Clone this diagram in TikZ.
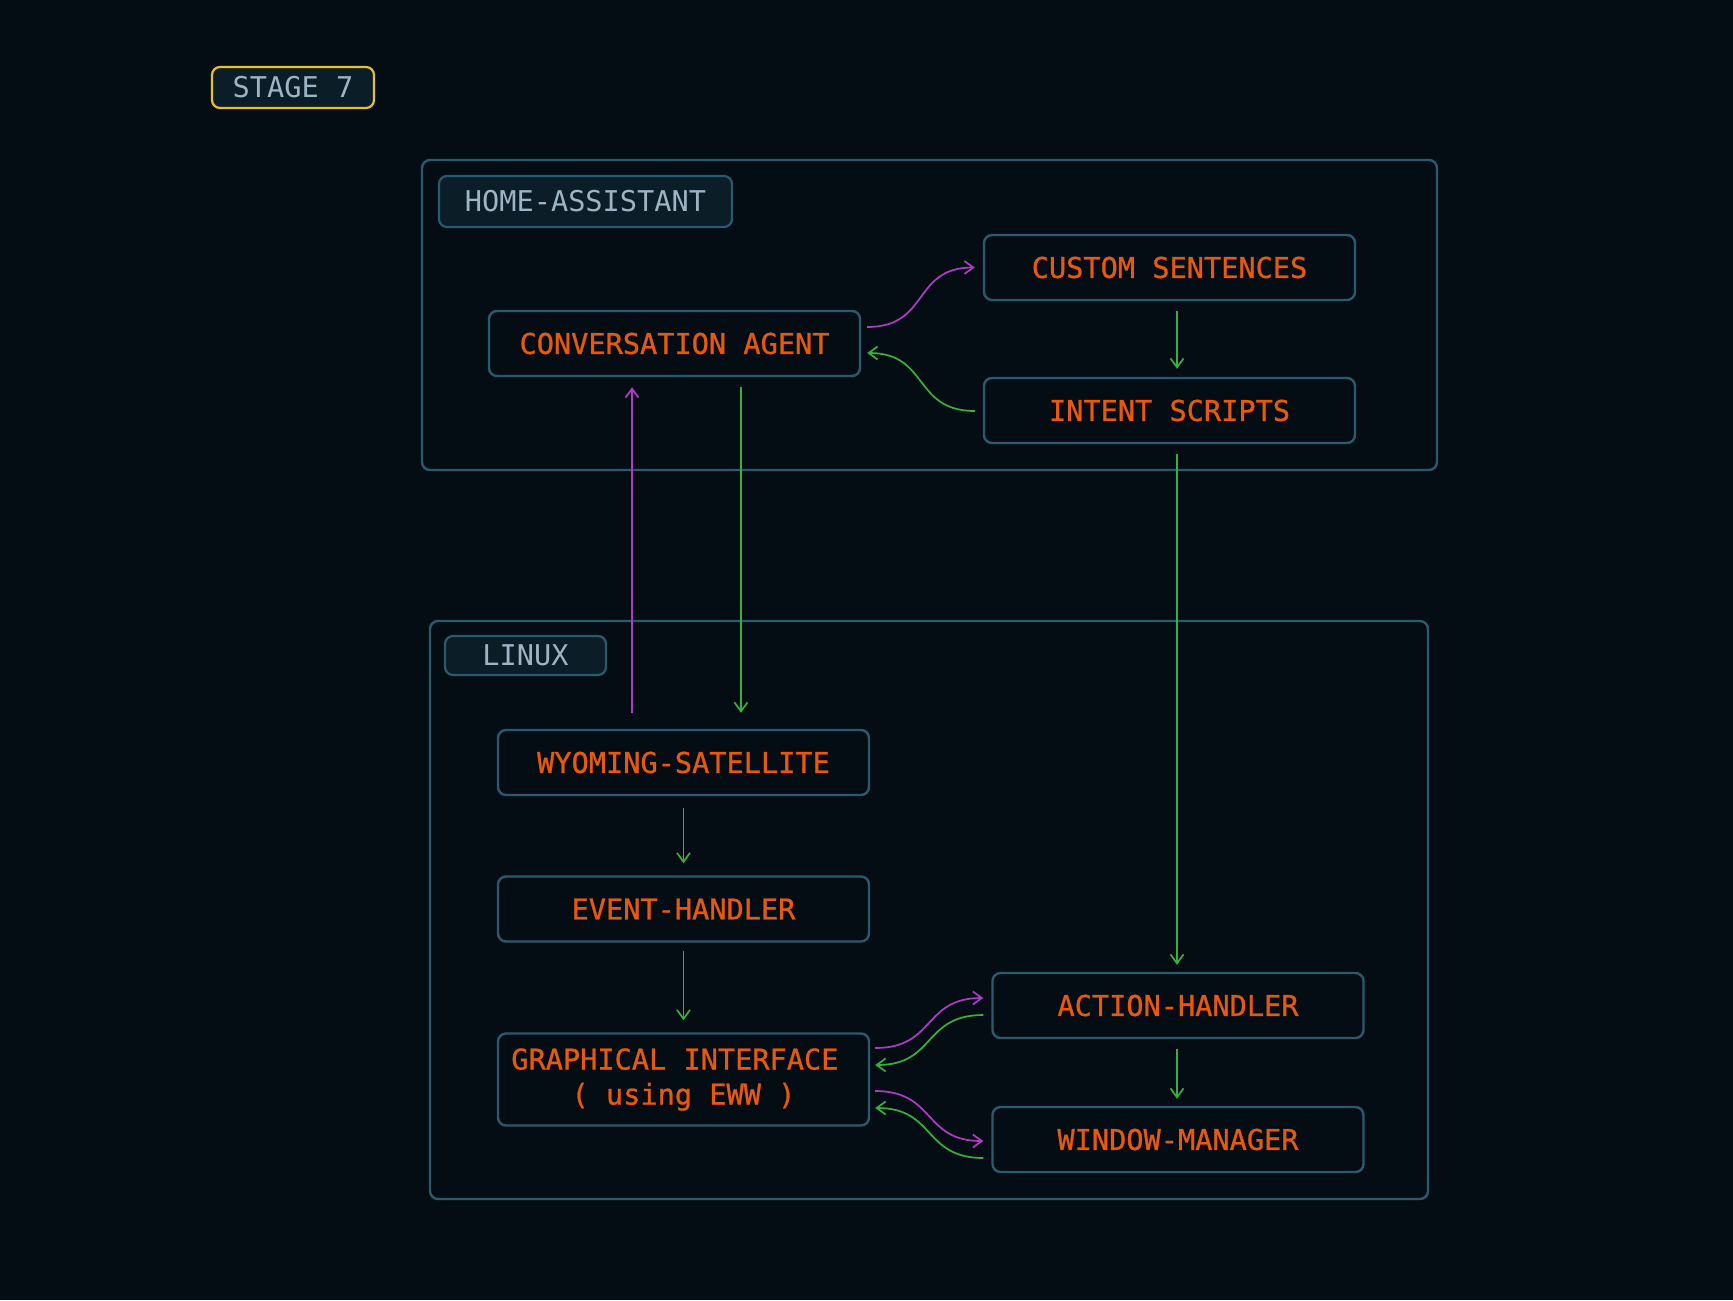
\documentclass[tikz,border=0pt]{standalone}
\usepackage{fontspec}
\setmonofont{DejaVu Sans Mono}
\newfontfamily\boxfont[FakeBold=0.9]{DejaVu Sans Mono}
\usepackage{tikz}
\usepackage{xcolor}
\usetikzlibrary{calc, arrows.meta}

\definecolor{bg}{HTML}{040D14}
\definecolor{frame}{HTML}{2B5A6E}
\definecolor{tag}{HTML}{0B1D27}
\definecolor{tagtext}{HTML}{9DB4C2}
\definecolor{hot}{HTML}{E8590C}
\definecolor{gold}{HTML}{E8C02E}
\definecolor{pull}{HTML}{B03CC4}
\definecolor{push}{HTML}{38B040}

\tikzset{
	box/.style={draw=frame, line width=1.2pt, rounded corners=4pt, fill=bg, text=hot,
		minimum width=185.5pt, minimum height=32.5pt, font=\boxfont\fontsize{14.3}{17.5}\selectfont, align=center},
	tagbox/.style={draw=frame, line width=1.1pt, rounded corners=4pt, fill=tag, text=tagtext,
		font=\ttfamily\fontsize{14.3}{17}\selectfont},
	pk/.style={pull, line width=0.85pt, ->},
	gn/.style={push, line width=0.85pt, ->}
}

\begin{document}
\begin{tikzpicture}[x=0.5pt, y=-0.5pt, >={Straight Barb[length=4.5pt,width=6.5pt]}, looseness=1.3]
		\fill[bg] (0,0) rectangle (1733,1300);
		\useasboundingbox (0,0) rectangle (1733,1300);
		\node[tagbox, draw=gold, minimum width=81pt, minimum height=20.5pt] (stage) at (293,87.5) {STAGE 7};
		% home-assistant
		\draw[frame, line width=1.2pt, rounded corners=4pt] (422,160) rectangle (1437,470);
		\node[tagbox, minimum width=146.5pt, minimum height=25.5pt] (ha) at (585.5,201.5) {HOME-ASSISTANT};
		\node[box] (agent) at (674.5,343.5) {CONVERSATION AGENT};
		\node[box] (sentences) at (1169.5,267.5) {CUSTOM SENTENCES};
		\node[box] (intent) at (1169.5,410.5) {INTENT SCRIPTS};
		% linux
		\draw[frame, line width=1.2pt, rounded corners=4pt] (430,621) rectangle (1428,1199);
		\node[tagbox, minimum width=80.5pt, minimum height=19.5pt] (linux) at (525.5,655.5) {LINUX};
		\node[box] (satellite) at (683.5,762.5) {WYOMING-SATELLITE};
		\node[box] (events) at (683.5,909) {EVENT-HANDLER};
		\node[box, minimum height=46pt] (gui) at (683.5,1079.5) {GRAPHICAL INTERFACE\hphantom{X}\\( using EWW )};
		\node[box] (actions) at (1178,1005.5) {ACTION-HANDLER};
		\node[box] (wm) at (1178,1139.5) {WINDOW-MANAGER};
		% connectors
		\draw[pk] ($(agent.east)+(6,-16.5)$) to[out=0, in=180] ($(sentences.west)+(-8,0)$);
		\draw[gn] ($(intent.west)+(-8,0.5)$) to[out=180, in=0] ($(agent.east)+(6,9.5)$);
		\draw[gn] ($(sentences.south)+(7.5,10)$) -- ($(intent.north)+(7.5,-8)$);
		\draw[gn] ($(intent.south)+(7.5,10)$) -- ($(actions.north)+(-1,-7)$);
		\draw[pk] ($(satellite.north)+(-51.5,-16)$) -- ($(agent.south)+(-42.5,10)$);
		\draw[gn] ($(agent.south)+(66.5,10)$) -- ($(satellite.north)+(57.5,-16)$);
		\draw[gn] ($(satellite.south)+(0,12)$) -- ($(events.north)+(0,-12)$);
		\draw[gn] ($(events.south)+(0,8)$) -- ($(gui.north)+(0,-12)$);
		\draw[gn] ($(actions.south)+(-1,10)$) -- ($(wm.north)+(-1,-7)$);
		\draw[pk] ($(gui.east)+(5,-31.5)$) to[out=0, in=180] ($(actions.west)+(-8,-7.5)$);
		\draw[gn] ($(actions.west)+(-8,9.5)$) to[out=180, in=0] ($(gui.east)+(5,-14.5)$);
		\draw[pk] ($(gui.east)+(5,11.5)$) to[out=0, in=180] ($(wm.west)+(-8,1.5)$);
		\draw[gn] ($(wm.west)+(-8,18.5)$) to[out=180, in=0] ($(gui.east)+(5,28.5)$);
\end{tikzpicture}
\end{document}
